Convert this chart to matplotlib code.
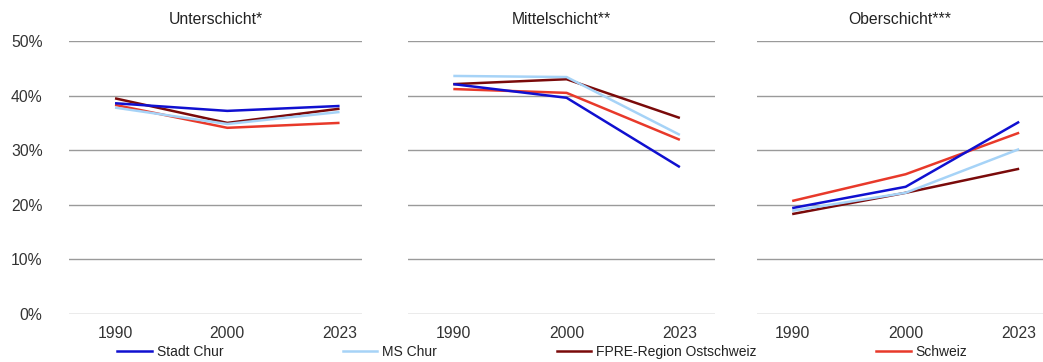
import numpy as np
import matplotlib.pyplot as plt

plt.rcParams['font.family'] = ['Liberation Sans', 'DejaVu Sans']

years = ['1990', '2000', '2023']
panels = ['Unterschicht*', 'Mittelschicht**', 'Oberschicht***']
series = ['Stadt Chur', 'MS Chur', 'FPRE-Region Ostschweiz', 'Schweiz']
colors = ['#1010d0', '#a6d3f7', '#7a0a0a', '#e8392a']

# Anteile in %, je Panel: Stadt Chur, MS Chur, FPRE, Schweiz
unter = [[38.6, 37.2, 38.1],
         [37.8, 34.8, 37.0],
         [39.5, 35.0, 37.6],
         [38.3, 34.1, 35.0]]
mittel = [[42.1, 39.6, 26.9],
          [43.6, 43.4, 32.8],
          [42.1, 43.0, 35.9],
          [41.2, 40.5, 31.9]]
ober = [[19.4, 23.3, 35.2],
        [18.9, 22.2, 30.2],
        [18.3, 22.2, 26.6],
        [20.7, 25.6, 33.2]]
data = [unter, mittel, ober]

W, H = 1043, 362
fig = plt.figure(figsize=(W / 100, H / 100), dpi=100)

# pixel boxes (left, right) and xlim per panel
boxes = [(69, 362, (-0.41, 2.2)), (408, 715, (-0.40, 2.31)), (757, 1043, (-0.31, 2.21))]
top, bottom = 41, 314

order = [3, 2, 1, 0]  # draw order (Stadt Chur on top)
for i, (l, r, xl) in enumerate(boxes):
    ax = fig.add_axes([l / W, 1 - bottom / H, (r - l) / W, (bottom - top) / H])
    x = np.arange(len(years))
    for j in order:
        ax.plot(x, data[i][j], color=colors[j], lw=1.8, label=series[j],
                solid_capstyle='butt', zorder=3)
    ax.set_xlim(*xl)
    ax.set_ylim(0, 50)
    ax.set_yticks(np.arange(0, 51, 10))
    ax.yaxis.grid(True, color='#9a9a9a', lw=1)
    ax.set_axisbelow(True)
    ax.set_xticks(x)
    ax.set_xticklabels(years)
    if i == 0:
        ax.set_yticklabels(['%d%%' % v for v in range(0, 51, 10)])
    else:
        ax.set_yticklabels([])
    ax.tick_params(length=0, labelsize=11.3, colors='#333333')
    ax.tick_params(axis='x', pad=9)
    ax.tick_params(axis='y', pad=19)
    for s in ax.spines.values():
        s.set_visible(False)
    ax.set_title(panels[i], fontsize=11.3, color='#222222', pad=12)

handles = [plt.Line2D([], [], color=c, lw=1.8) for c in colors]
fig.legend(handles, series, loc='center left', bbox_to_anchor=(117 / W, 1 - 352 / H),
           ncol=4, frameon=False, fontsize=10, handlelength=2.5, handletextpad=0.35,
           columnspacing=8.6, borderpad=0, borderaxespad=0, labelcolor='#222222')

plt.savefig('out.png', dpi=100)
